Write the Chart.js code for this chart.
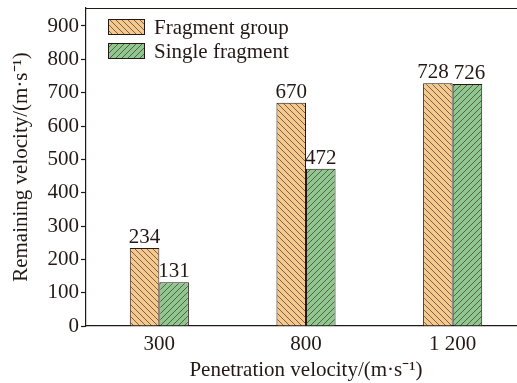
<!DOCTYPE html>
<html>
<head>
<meta charset="utf-8">
<script src="https://cdn.jsdelivr.net/npm/chart.js@4"></script>
<style>
  html, body { margin: 0; padding: 0; background: #fff; }
  #wrap { width: 517px; height: 383px; overflow: hidden; position: relative; }
  canvas { display: block; }
</style>
</head>
<body>
<div id="wrap"><canvas id="myChart" width="527" height="383"></canvas></div>
<script>
let categories = ['300', '800', '1 200']
let groupValues = [234, 670, 728]
let singleValues = [131, 472, 726]
let yTicks = [0, 100, 200, 300, 400, 500, 600, 700, 800, 900]

let ink = '#231815'
let serif = '"Liberation Serif", "Times New Roman", serif'
let fs = 21

// hatch pattern, dir 1 = "\" , dir -1 = "/"
const hatch = (bg, dir) => {
  let s = 6
  let c = document.createElement('canvas')
  c.width = s
  c.height = s
  let g = c.getContext('2d')
  g.fillStyle = bg
  g.fillRect(0, 0, s, s)
  g.strokeStyle = 'rgba(40,30,25,0.8)'
  g.lineWidth = 0.75
  g.beginPath()
  if (dir > 0) {
    g.moveTo(-1, -1); g.lineTo(s + 1, s + 1)
    g.moveTo(-1, s - 1); g.lineTo(1, s + 1)
    g.moveTo(s - 1, -1); g.lineTo(s + 1, 1)
  } else {
    g.moveTo(-1, s + 1); g.lineTo(s + 1, -1)
    g.moveTo(-1, 1); g.lineTo(1, -1)
    g.moveTo(s - 1, s + 1); g.lineTo(s + 1, s - 1)
  }
  g.stroke()
  return g.createPattern(c, 'repeat')
}

let ctx = document.getElementById('myChart').getContext('2d')
let orangeFill = hatch('#f5c88e', 1)
let greenFill = hatch('#8fc78f', -1)

// numbers above the bars, top border and the legend box
const extras = {
  id: 'extras',
  afterDatasetsDraw(chart) {
    let c = chart.ctx
    let a = chart.chartArea
    c.save()
    c.font = fs + 'px ' + serif
    c.fillStyle = ink
    c.textAlign = 'center'
    c.textBaseline = 'alphabetic'
    let m0 = chart.getDatasetMeta(0).data
    let m1 = chart.getDatasetMeta(1).data
    categories.forEach((cat, j) => {
      let t0 = String(groupValues[j])
      let t1 = String(singleValues[j])
      let b0 = m0[j], b1 = m1[j]
      let x0 = b0.x, x1 = b1.x
      // push the two numbers apart when they sit at about the same height
      if (Math.abs(b0.y - b1.y) < fs) {
        let need = (c.measureText(t0).width + c.measureText(t1).width) / 2 + 5
        let gap = x1 - x0
        if (gap < need) {
          x0 -= (need - gap) * 0.7
          x1 += (need - gap) * 0.3
        }
      }
      c.fillText(t0, x0, b0.y - 5)
      c.fillText(t1, x1, b1.y - 5)
    })
    // top frame line
    c.strokeStyle = ink
    c.lineWidth = 1.2
    c.beginPath()
    c.moveTo(a.left, a.top + 0.5)
    c.lineTo(a.right + 5, a.top + 0.5)
    c.stroke()
    // legend
    let items = [['Fragment group', orangeFill], ['Single fragment', greenFill]]
    items.forEach((it, k) => {
      let y = 19 + k * 24
      c.fillStyle = it[1]
      c.fillRect(108, y, 37, 16)
      c.lineWidth = 1
      c.strokeStyle = ink
      c.strokeRect(108.5, y + 0.5, 36, 15)
      c.fillStyle = ink
      c.textAlign = 'left'
      c.textBaseline = 'middle'
      c.fillText(it[0], 154, y + 9)
    })
    c.restore()
  }
}

let myChart = new Chart(ctx, {
  type: 'bar',
  data: {
    labels: categories,
    datasets: [
      {
        label: 'Fragment group',
        data: groupValues,
        backgroundColor: orangeFill,
        borderColor: ink,
        borderWidth: 1,
        borderSkipped: 'bottom'
      },
      {
        label: 'Single fragment',
        data: singleValues,
        backgroundColor: greenFill,
        borderColor: ink,
        borderWidth: 1,
        borderSkipped: 'bottom'
      }
    ]
  },
  options: {
    responsive: false,
    animation: false,
    devicePixelRatio: 1,
    layout: { padding: { left: 0, right: 1, top: 8, bottom: 0 } },
    datasets: {
      bar: { categoryPercentage: 0.403, barPercentage: 1 }
    },
    plugins: {
      legend: { display: false },
      tooltip: { enabled: false }
    },
    scales: {
      x: {
        grid: { display: false, drawTicks: false },
        border: { color: ink, width: 1.2 },
        ticks: { color: ink, font: { family: serif, size: fs }, padding: 6, maxRotation: 0 },
        title: {
          display: true,
          text: 'Penetration velocity/(m·s⁻¹)',
          color: ink,
          font: { family: serif, size: fs },
          padding: { top: 0, bottom: 0 }
        },
        afterFit: s => { s.height = 57; s.paddingLeft = 0; s.paddingRight = 0 }
      },
      y: {
        min: 0,
        max: 954,
        afterBuildTicks: s => { s.ticks = yTicks.map(v => ({ value: v })) },
        grid: { display: true, drawOnChartArea: false, drawTicks: true, tickLength: 5, color: ink, tickWidth: 1.2 },
        border: { color: ink, width: 1.2 },
        ticks: { color: ink, font: { family: serif, size: fs }, padding: 2 },
        title: {
          display: true,
          text: 'Remaining velocity/(m·s⁻¹)',
          color: ink,
          font: { family: serif, size: fs },
          padding: { top: 9, bottom: 0 }
        },
        afterFit: s => { s.width = 86; s.paddingTop = 0; s.paddingBottom = 0 }
      }
    }
  },
  plugins: [extras]
})
</script>
</body>
</html>
